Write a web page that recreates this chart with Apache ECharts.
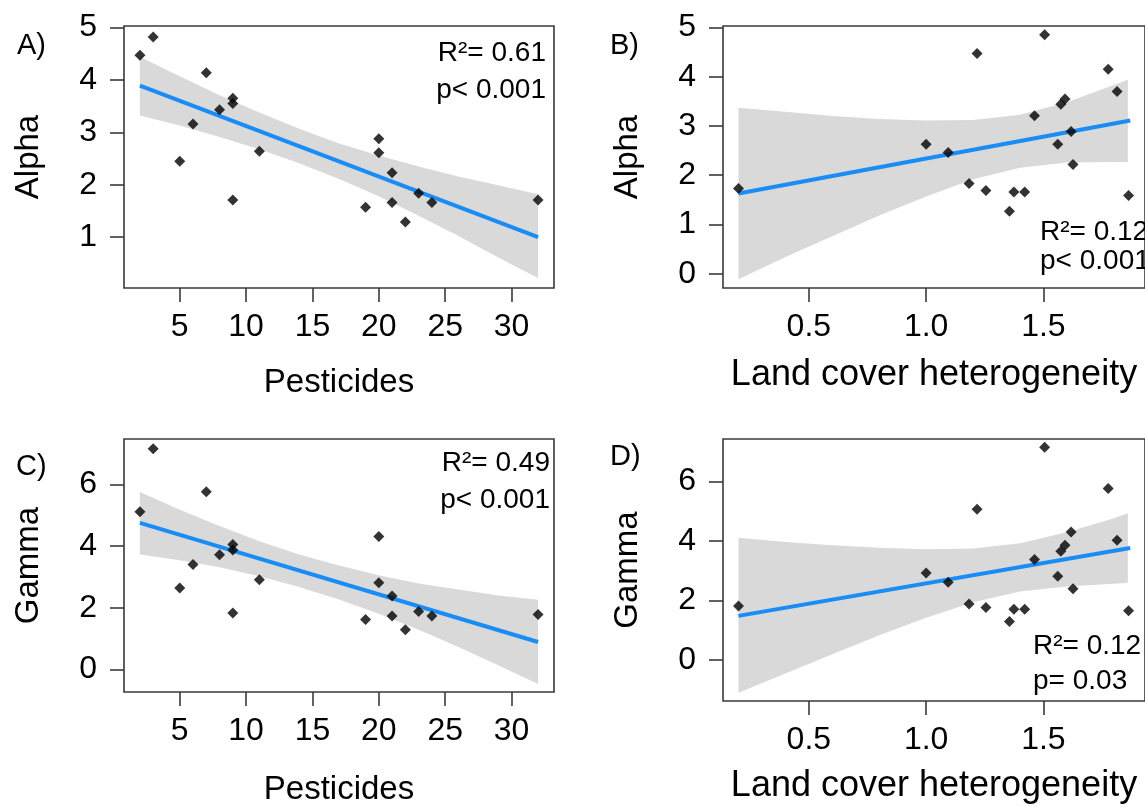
<!DOCTYPE html>
<html>
<head>
<meta charset="utf-8">
<script src="https://cdn.jsdelivr.net/npm/echarts@6/dist/echarts.min.js"></script>
<style>
html,body{margin:0;padding:0;background:#fff;}
#c{width:1145px;height:807px;}
</style>
</head>
<body>
<div id="c"></div>
<script>
// ---- data ----
const pesticides   = [2, 3, 7, 8, 9, 9, 6, 5, 9, 11, 20, 20, 21, 19, 21, 22, 23, 24, 32];
const alphaPest    = [4.47, 4.82, 4.14, 3.43, 3.65, 3.55, 3.16, 2.45, 1.71, 2.64, 2.88, 2.61, 2.23, 1.57, 1.66, 1.29, 1.84, 1.66, 1.71];
const gammaPest    = [5.11, 7.15, 5.76, 3.72, 4.05, 3.87, 3.40, 2.64, 1.83, 2.91, 4.31, 2.81, 2.38, 1.62, 1.73, 1.29, 1.88, 1.73, 1.78];
const heterogeneity= [0.2, 1.0, 1.094, 1.183, 1.217, 1.255, 1.355, 1.374, 1.42, 1.462, 1.505, 1.561, 1.574, 1.592, 1.618, 1.626, 1.776, 1.814, 1.863];
const alphaHet     = [1.73, 2.63, 2.46, 1.83, 4.47, 1.69, 1.27, 1.66, 1.66, 3.21, 4.85, 2.63, 3.44, 3.55, 2.89, 2.22, 4.15, 3.70, 1.59];
const gammaHet     = [1.82, 2.93, 2.62, 1.89, 5.07, 1.77, 1.30, 1.71, 1.71, 3.38, 7.15, 2.82, 3.66, 3.86, 4.31, 2.40, 5.77, 4.03, 1.66];

// fitted lines (end points)
const fitAx = [2, 32],     fitAy = [3.89, 1.00];
const fitBx = [0.2, 1.87], fitBy = [1.63, 3.11];
const fitCx = [2, 32],     fitCy = [4.75, 0.89];
const fitDx = [0.2, 1.87], fitDy = [1.49, 3.77];

// confidence bands
const bandPestX = [2, 5, 8, 11, 14, 17, 20, 23, 26, 29, 32];
const bandAhi = [4.44, 4.07, 3.71, 3.38, 3.07, 2.79, 2.56, 2.35, 2.16, 1.99, 1.82];
const bandAlo = [3.32, 3.13, 2.91, 2.68, 2.41, 2.11, 1.78, 1.41, 1.02, 0.61, 0.22];
const bandChi = [5.75, 5.18, 4.65, 4.16, 3.73, 3.37, 3.05, 2.79, 2.59, 2.40, 2.26];
const bandClo = [3.73, 3.54, 3.31, 3.02, 2.67, 2.27, 1.81, 1.29, 0.73, 0.14, -0.47];
const bandHetX = [0.2, 0.4, 0.6, 0.8, 1.0, 1.2, 1.4, 1.6, 1.8, 1.86];
const bandBhi = [3.37, 3.29, 3.20, 3.14, 3.11, 3.12, 3.23, 3.48, 3.83, 3.94];
const bandBlo = [-0.11, 0.34, 0.76, 1.18, 1.57, 1.92, 2.15, 2.26, 2.27, 2.27];
const bandDhi = [4.11, 3.97, 3.86, 3.78, 3.73, 3.75, 3.93, 4.30, 4.77, 4.94];
const bandDlo = [-1.09, -0.45, 0.20, 0.84, 1.43, 1.95, 2.31, 2.48, 2.57, 2.60];

// tick labels
const pestTicks = [5, 10, 15, 20, 25, 30];
const hetTicks = [0.5, 1.0, 1.5];
const alphaTicksA = [1, 2, 3, 4, 5];
const alphaTicksB = [0, 1, 2, 3, 4, 5];
const gammaTicks = [0, 2, 4, 6];

// ---- chart ----
const FONT = '"Liberation Sans", Arial, sans-serif';
const chart = echarts.init(document.getElementById('c'), null, {renderer: 'canvas'});

function grid(left, top, width, height) {
  return {left, top, width, height, show: true, borderColor: '#3a3a3a', borderWidth: 1.6, backgroundColor: 'transparent', containLabel: false};
}
function xAx(gi, min, max, ticks, name, gap, nameSize, fmt) {
  return {
    type: 'value', gridIndex: gi, min, max,
    name, nameLocation: 'middle', nameGap: gap,
    nameTextStyle: {fontSize: nameSize, color: '#000', fontFamily: FONT},
    axisLine: {show: false, onZero: false},
    axisTick: {show: true, length: 14, lineStyle: {color: '#3a3a3a', width: 1.6}, customValues: ticks},
    axisLabel: {fontSize: 32, color: '#000', fontFamily: FONT, margin: 23, customValues: ticks,
      formatter: fmt || (v => String(v))},
    splitLine: {show: false}
  };
}
function yAx(gi, min, max, ticks, name) {
  return {
    type: 'value', gridIndex: gi, min, max,
    name, nameLocation: 'middle', nameGap: 79, nameRotate: 90,
    nameTextStyle: {fontSize: 33, color: '#000', fontFamily: FONT},
    axisLine: {show: false, onZero: false},
    axisTick: {show: true, length: 14, lineStyle: {color: '#3a3a3a', width: 1.6}, customValues: ticks},
    axisLabel: {fontSize: 32, color: '#000', fontFamily: FONT, margin: 27, customValues: ticks},
    splitLine: {show: false}
  };
}
function band(idx, xs, lo, hi) {
  return {
    type: 'custom', xAxisIndex: idx, yAxisIndex: idx, silent: true, z: 1,
    data: xs.map((x, i) => [x, lo[i], hi[i]]),
    encode: {x: 0, y: [1, 2]},
    renderItem: function (params, api) {
      if (params.dataIndex !== 0) return null;
      const pts = [];
      for (let i = 0; i < xs.length; i++) pts.push(api.coord([xs[i], hi[i]]));
      for (let i = xs.length - 1; i >= 0; i--) pts.push(api.coord([xs[i], lo[i]]));
      return {type: 'polygon', shape: {points: pts}, style: {fill: '#d9d9d9'}};
    }
  };
}
function fit(idx, xs, ys) {
  return {
    type: 'line', xAxisIndex: idx, yAxisIndex: idx, z: 2, silent: true,
    data: xs.map((x, i) => [x, ys[i]]), symbol: 'none',
    lineStyle: {color: '#1a8cf5', width: 4}
  };
}
function pts(idx, xs, ys) {
  return {
    type: 'scatter', xAxisIndex: idx, yAxisIndex: idx, z: 3, silent: true,
    data: xs.map((x, i) => [x, ys[i]]), symbol: 'diamond', symbolSize: [11, 11],
    itemStyle: {color: '#000'}
  };
}
function txt(x, y, s, align, size) {
  return {type: 'text', x, y, style: {text: s, fontSize: size || 28, fontFamily: FONT, fill: '#000',
    textAlign: align || 'left', textVerticalAlign: 'middle'}};
}

const option = {
  animation: false,
  backgroundColor: '#fff',
  grid: [
    grid(124, 26, 430, 262),
    grid(723, 26, 431, 262),
    grid(124, 439, 430, 262),
    grid(723, 439, 431, 262)
  ],
  xAxis: [
    xAx(0, 0.8, 33.2, pestTicks, 'Pesticides', 78, 33),
    xAx(1, 0.134, 1.933, hetTicks, 'Land cover heterogeneity', 69, 36, v => v.toFixed(1)),
    xAx(2, 0.8, 33.2, pestTicks, 'Pesticides', 81, 33),
    xAx(3, 0.134, 1.933, hetTicks, 'Land cover heterogeneity', 67, 36, v => v.toFixed(1))
  ],
  yAxis: [
    yAx(0, 0.03, 5.03, alphaTicksA, 'Alpha'),
    yAx(1, -0.29, 5.03, alphaTicksB, 'Alpha'),
    yAx(2, -0.73, 7.47, gammaTicks, 'Gamma'),
    yAx(3, -1.37, 7.43, gammaTicks, 'Gamma')
  ],
  series: [
    band(0, bandPestX, bandAlo, bandAhi), fit(0, fitAx, fitAy), pts(0, pesticides, alphaPest),
    band(1, bandHetX, bandBlo, bandBhi), fit(1, fitBx, fitBy), pts(1, heterogeneity, alphaHet),
    band(2, bandPestX, bandClo, bandChi), fit(2, fitCx, fitCy), pts(2, pesticides, gammaPest),
    band(3, bandHetX, bandDlo, bandDhi), fit(3, fitDx, fitDy), pts(3, heterogeneity, gammaHet)
  ],
  graphic: [
    txt(17, 46, 'A)', 'left', 29), txt(610, 46, 'B)', 'left', 29), txt(16, 467, 'C)', 'left', 29), txt(610, 457, 'D)', 'left', 29),
    txt(546, 53, 'R²= 0.61', 'right'), txt(546, 90, 'p< 0.001', 'right'),
    txt(1040, 232, 'R²= 0.12'), txt(1040, 261, 'p< 0.001'),
    txt(550, 463, 'R²= 0.49', 'right'), txt(550, 500, 'p< 0.001', 'right'),
    txt(1033, 646, 'R²= 0.12'), txt(1033, 681, 'p= 0.03')
  ]
};
chart.setOption(option);
</script>
</body>
</html>
